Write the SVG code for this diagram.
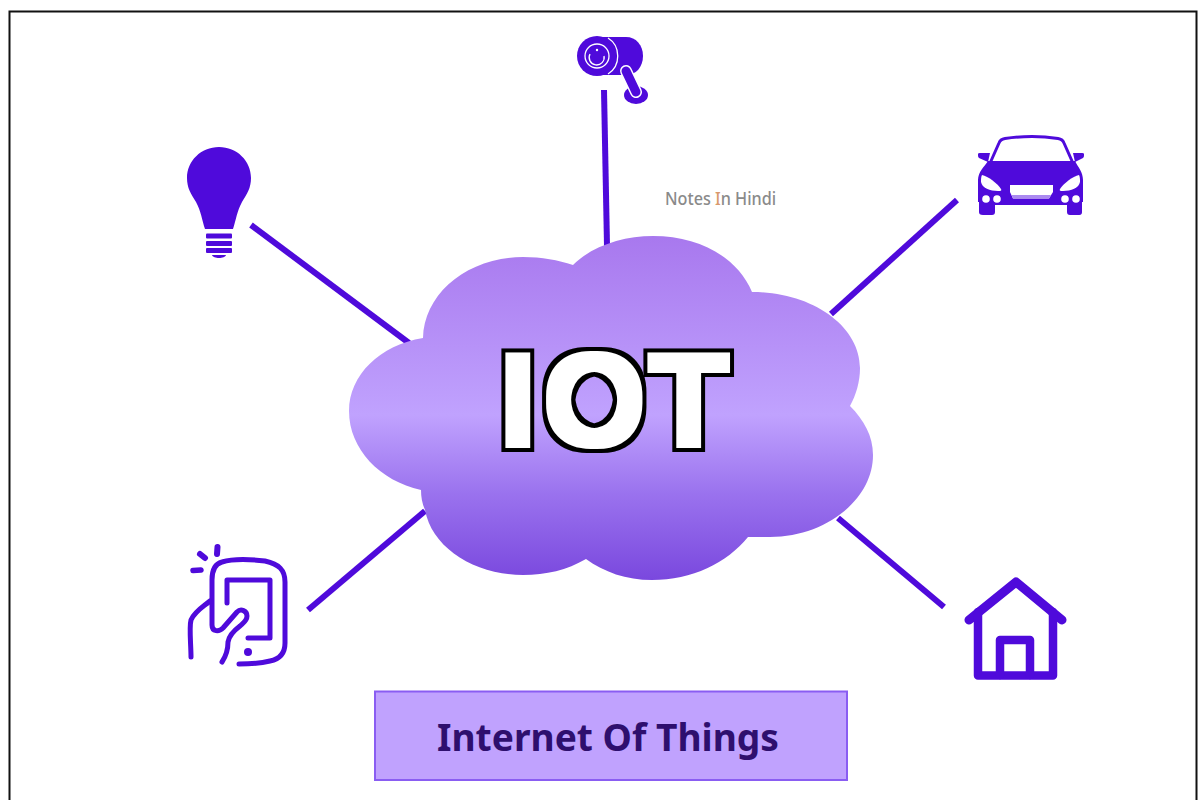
<svg xmlns="http://www.w3.org/2000/svg" width="1204" height="800" viewBox="0 0 1204 800">
<style>
.ic{fill:#4f0adb}
.st{fill:none;stroke:#4f0adb;stroke-linecap:round;stroke-linejoin:round}
.link{fill:none;stroke:#4f0adb;stroke-width:6}
.wl{fill:none;stroke:#fff}
</style>
<defs>
<linearGradient id="cg" gradientUnits="userSpaceOnUse" x1="0" y1="236" x2="0" y2="580">
<stop offset="0" stop-color="#a878ee"/>
<stop offset="0.52" stop-color="#c0a2fe"/>
<stop offset="0.75" stop-color="#9a72ee"/>
<stop offset="1" stop-color="#7a48de"/>
</linearGradient>
<filter id="outline" x="-10%" y="-10%" width="120%" height="120%" color-interpolation-filters="sRGB">
<feMorphology in="SourceAlpha" operator="dilate" radius="3" result="inner"/>
<feMorphology in="SourceAlpha" operator="dilate" radius="7" result="outer"/>
<feFlood flood-color="#000"/>
<feComposite in2="outer" operator="in" result="black"/>
<feFlood flood-color="#fff"/>
<feComposite in2="inner" operator="in" result="white"/>
<feMerge><feMergeNode in="black"/><feMergeNode in="white"/></feMerge>
</filter>
</defs>
<rect width="1204" height="800" fill="#fff"/>
<path d="M9.500 801V11.500H1196.500V801" fill="none" stroke="#111" stroke-width="2"/>
<g id="connectors">
<path class="link" d="M604 90L607 246"/>
<path class="link" d="M251 225L409 343"/>
<path class="link" d="M957 200L831 314"/>
<path class="link" d="M308 610L425 511"/>
<path class="link" d="M838 518L944 607"/>
</g>
<g id="cloud">
<path fill="url(#cg)" d="M423 338C424 293 468 257 523 257C542 257 558 260 573 265C592 246 623 236 653 236C700 236 738 258 752 292C812 292 860 326 860 368C860 382 856 395 850 406C864 420 873 436 873 455C873 500 825 537 770 537C762 537 755 537 748 537C727 563 692 580 652 580C626 580 604 572 586 559C567 570 546 575 523 575C475 575 432 548 425 510C422 503 421 497 421 490C380 481 349 449 349 411C349 375 380 345 423 338Z"/>
<text x="499.700 543.800 649" y="445" font-family="'Liberation Sans',sans-serif" font-weight="700" font-size="130" fill="#fff" filter="url(#outline)">IOT</text>
</g>
<g id="camera">
<path class="ic" d="M600 37H626C636 37 643 45 643 56C643 67 636 75 626 75H600Z"/>
<circle cx="597" cy="56" r="20" class="ic"/>
<path class="wl" stroke-width="1.300" d="M608 38C621 46 621 66 608 74"/>
<circle cx="597" cy="56" r="12" class="wl" stroke-width="1.300"/>
<path class="wl" stroke-width="1.300" d="M590 54A7.500 7.500 0 1 0 604 56"/>
<circle cx="597" cy="50" r="1.200" fill="#fff"/>
<ellipse cx="636" cy="95" rx="12" ry="9" class="ic"/>
<path d="M626 71L636 92" fill="none" stroke="#fff" stroke-width="12" stroke-linecap="round"/>
<path d="M626 71L636 92" fill="none" stroke="#4f0adb" stroke-width="9" stroke-linecap="round"/>
</g>
<g id="watermark">
<text transform="translate(665 205) scale(0.9 1)" font-family="'Noto Sans','Open Sans',sans-serif" font-weight="500" font-size="18" fill="#8a8a8a">Notes <tspan fill="#d99a6c">I</tspan>n Hindi</text>
</g>
<g id="bulb">
<path class="ic" d="M219 147C201 147 187 161 187 178C187 188 191 194 196 202C201 211 202 220 205 229H233C236 220 237 211 242 202C247 194 251 188 251 178C251 161 237 147 219 147Z"/>
<rect x="206" y="233.500" width="26" height="5" rx="1" class="ic"/>
<rect x="206" y="241" width="26" height="5" rx="1" class="ic"/>
<rect x="206" y="248" width="26" height="5" rx="1" class="ic"/>
<path class="ic" d="M212 255H226C225 259 213 259 212 255Z"/>
</g>
<g id="car">
<path class="st" stroke-width="3" d="M991 161L999 143C1000 140 1002 139 1005 138.500C1022 136 1042 136 1058 138.500C1061 139 1063 140 1064 143L1072 161"/>
<path class="ic" d="M978 154C978 153 979 153 981 153H990L988 162L979 158C978 157 978 156 978 154Z"/>
<path class="ic" d="M1084 154C1084 153 1083 153 1081 153H1073L1075 162L1083 158C1084 157 1084 156 1084 154Z"/>
<path class="ic" d="M988 161H1075C1078 167 1083 172 1083 180V202H1082V212C1082 215 1080 215 1078 215H1070C1068 215 1067 214 1067 212V205H995V212C995 214 994 215 992 215H983C980 215 979 214 979 212V202H978V180C978 172 984 167 988 161Z"/>
<path fill="#fff" d="M982 175C988 176 998 184 1001 189C1002 191 1000 191 998 191C990 191 982 188 981 182C981 179 981 177 982 175Z"/>
<path fill="#fff" d="M1079 175C1073 176 1063 184 1060 189C1059 191 1061 191 1063 191C1071 191 1079 188 1080 182C1080 179 1080 177 1079 175Z"/>
<path fill="#fff" d="M1010 185H1053V192L1049 198.500H1013L1010 192Z"/>
<path fill="#ab8af0" d="M1011.500 195H1051L1049 198.500H1013Z"/>
<circle cx="986" cy="199" r="3.800" fill="#fff"/>
<circle cx="997" cy="199" r="3.800" fill="#fff"/>
<circle cx="1065" cy="199" r="3.800" fill="#fff"/>
<circle cx="1076" cy="199" r="3.800" fill="#fff"/>
</g>
<g id="phone">
<path class="st" stroke-width="6" d="M200 554L205 558"/>
<path class="st" stroke-width="6" d="M217.500 547L217 554"/>
<path class="st" stroke-width="5.500" d="M193 570.500L201 570"/>
<path class="st" stroke-width="5" d="M239 664C252 664 262 663 270 661C280 659 285 653 285 643V582C285 570 279 564 265 561C248 559 232 559 222 562C214 564 212 571 212 580V625C212 632 219 632 223 628L237 612C241 608 247 611 247 616C247 621 243 623 240 626C232 632 229 636 228 642C228 650 226 656 222 662"/>
<path class="st" stroke-width="5" d="M227 603V580H270V638H248"/>
<path class="st" stroke-width="5" d="M210 601C203 607 195 611 191 620C189 627 191 645 191 657"/>
<circle cx="248" cy="652" r="4" class="ic"/>
</g>
<g id="house">
<path class="st" stroke-width="9" d="M969 620L1016 582L1062 620"/>
<path class="st" stroke-width="8.500" d="M978 612V675.500H1053V612"/>
<path class="st" stroke-width="8.500" d="M1000 675V640H1030V675"/>
</g>
<g id="caption">
<rect x="375" y="691.500" width="472" height="88.500" fill="#c0a2fe" stroke="#8a5df2" stroke-width="2"/>
<text x="437" y="751" font-family="'Noto Sans','Open Sans',sans-serif" font-weight="700" font-size="37" fill="#2e0f6e" textLength="342" lengthAdjust="spacingAndGlyphs">Internet Of Things</text>
</g>
</svg>
